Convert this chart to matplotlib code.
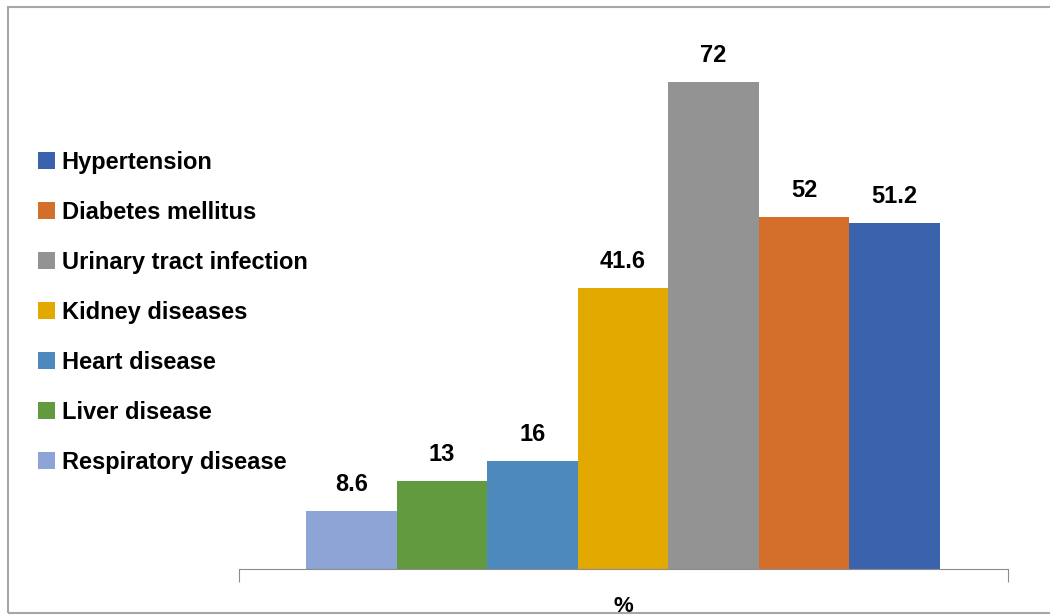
import matplotlib.pyplot as plt
from matplotlib.patches import Rectangle

categories = ['Respiratory disease', 'Liver disease', 'Heart disease', 'Kidney diseases',
              'Urinary tract infection', 'Diabetes mellitus', 'Hypertension']
values = [8.6, 13, 16, 41.6, 72, 52, 51.2]
labels = ['8.6', '13', '16', '41.6', '72', '52', '51.2']
colors = ['#8EA3D6', '#629A3F', '#4E89BD', '#E2AA00', '#939393', '#D46E2B', '#3B63AD']

plt.rcParams['font.family'] = ['Liberation Sans', 'DejaVu Sans']

fig = plt.figure(figsize=(10.5, 6.16), dpi=100)
ax = fig.add_axes([239/1050, 47/616, 769/1050, 541/616])

# bars span x=306..940 px inside axis 239..1008 px
bw = (940 - 306) / 769 / 7
x0 = (306 - 239) / 769
bars = []
for i, (c, v, col) in enumerate(zip(categories, values, colors)):
    b = ax.bar(x0 + bw * (i + 0.5), v, width=bw, color=col, label=c)
    bars.append(b)
    ax.text(x0 + bw * (i + 0.5), v + 2.2, labels[i], ha='center', va='bottom',
            fontsize=17, fontweight='bold')

ax.set_xlim(0, 1)
ax.set_ylim(0, 80)
for s in ['top', 'right', 'left']:
    ax.spines[s].set_visible(False)
ax.spines['bottom'].set_color('#8c8c8c')
ax.set_yticks([])
ax.set_xticks([0, 1])
ax.set_xticklabels(['', ''])
ax.tick_params(axis='x', direction='out', length=9, color='#8c8c8c')

fig.text(623/1050, 1 - 606/616, '%', ha='center', va='center', fontsize=16, fontweight='bold')

handles = [b[0] for b in bars][::-1]
names = categories[::-1]
fig.legend(handles, names, loc='upper left', bbox_to_anchor=(38/1050, 1 - 151/616),
           frameon=False, prop={'size': 17, 'weight': 'bold'},
           handlelength=0.7, handleheight=0.7, handletextpad=0.3, labelspacing=1.14,
           borderaxespad=0, borderpad=0)

fig.add_artist(Rectangle((8/1050, 3/616), 1.2, 606/616, transform=fig.transFigure,
                         fill=False, edgecolor='#a6a6a6', linewidth=1.5))

fig.savefig('out.png', dpi=100)
